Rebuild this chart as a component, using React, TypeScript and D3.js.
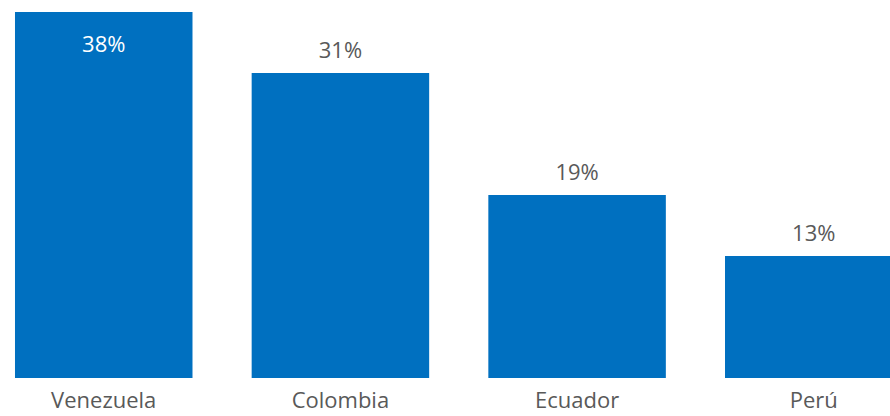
import React from "react";
import * as d3 from "d3";

const categories = ["Venezuela", "Colombia", "Ecuador", "Perú"];
const values = [37.5, 31.25, 18.75, 12.5];

const W = 890;
const H = 416;

export default function App() {
  const x = d3
    .scaleBand<string>()
    .domain(categories)
    .range([-14.6, 932.1])
    .paddingInner(0.25)
    .paddingOuter(0.125);
  const y = d3.scaleLinear().domain([0, 37.5]).range([378, 12]);
  const font = "'Open Sans', 'Noto Sans', sans-serif";
  return (
    <svg
      width={W}
      height={H}
      style={{ position: "absolute", left: 0, top: 0, background: "#fff" }}
    >
      {categories.map((c, i) => {
        const v = values[i];
        const x0 = x(c)!;
        const bw = x.bandwidth();
        const top = y(v);
        const inside = i === 0;
        const label = `${Math.round(v)}%`;
        return (
          <g key={c}>
            <rect x={x0} y={top} width={bw} height={y(0) - top} fill="#0070C0" />
            <text
              x={x0 + bw / 2}
              y={inside ? top + 40 : top - 15}
              textAnchor="middle"
              fontFamily={font}
              fontSize={22}
              fill={inside ? "#ffffff" : "#595959"}
            >
              {label}
            </text>
            <text
              x={x0 + bw / 2}
              y={408}
              textAnchor="middle"
              fontFamily={font}
              fontSize={22}
              fill="#595959"
            >
              {c}
            </text>
          </g>
        );
      })}
    </svg>
  );
}
